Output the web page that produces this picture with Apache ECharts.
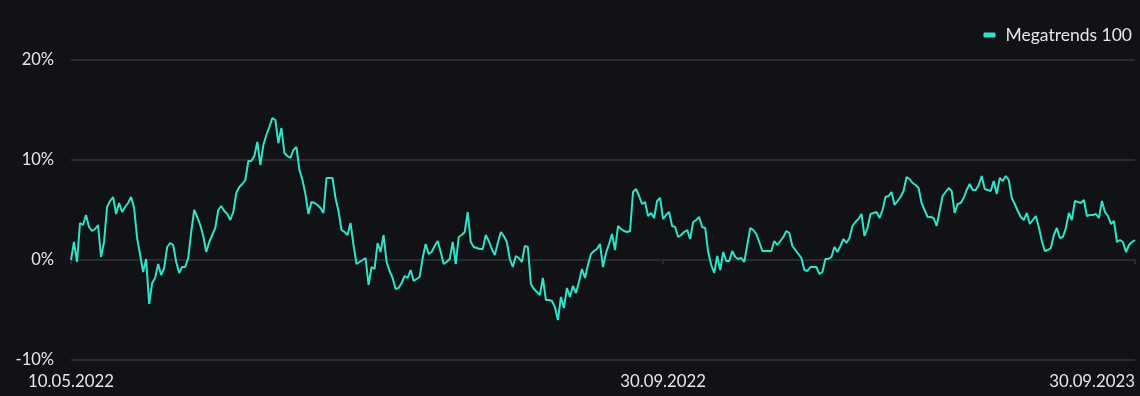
<!DOCTYPE html>
<html>
<head>
<meta charset="utf-8">
<script src="https://cdn.jsdelivr.net/npm/echarts@6/dist/echarts.min.js"></script>
<style>
html,body{margin:0;padding:0;background:#111215;}
#chart{width:1140px;height:396px;}
</style>
</head>
<body>
<div id="chart"></div>
<script>
const seriesName = 'Megatrends 100';
const values = [
  0.0, 1.8, -0.2, 3.7, 3.5, 4.5, 3.3, 2.9, 3.1, 3.5,
  0.3, 1.8, 5.3, 5.9, 6.3, 4.6, 5.7, 4.8, 5.3, 5.7,
  6.3, 5.2, 2.2, 0.5, -1.2, 0.1, -4.4, -2.3, -1.8, -0.4,
  -1.5, -0.8, 1.3, 1.7, 1.5, -0.2, -1.3, -0.7, -0.7, 0.2,
  2.8, 5.0, 4.3, 3.5, 2.4, 0.8, 1.8, 2.5, 3.2, 5.0,
  5.4, 4.9, 4.6, 4.0, 4.8, 6.7, 7.3, 7.6, 8.0, 9.9,
  9.9, 10.4, 11.8, 9.5, 11.5, 12.5, 13.3, 14.2, 14.0, 11.7,
  13.2, 10.7, 10.4, 10.2, 11.0, 11.3, 9.0, 8.0, 6.6, 4.6,
  5.8, 5.7, 5.5, 5.2, 4.7, 8.2, 8.2, 8.2, 6.2, 4.9,
  3.0, 2.8, 2.5, 3.7, 1.5, -0.4, -0.2, 0.0, 0.2, -2.5,
  -0.7, -0.9, 1.7, 0.8, 2.5, -0.2, -1.1, -1.8, -2.9, -2.8,
  -2.3, -1.6, -1.8, -1.0, -2.1, -1.9, -1.7, 0.2, 1.6, 0.6,
  0.8, 1.4, 1.9, 0.8, -0.4, -0.2, 0.1, 1.8, -0.4, 2.3,
  2.5, 2.8, 4.8, 1.8, 1.3, 1.2, 1.1, 1.1, 2.5, 1.9,
  1.1, 0.5, 1.7, 2.8, 2.4, 1.8, 0.1, -0.7, 0.4, 0.2,
  -0.2, 1.4, 1.3, -2.4, -2.9, -3.2, -3.5, -1.8, -4.0, -4.0,
  -4.1, -4.7, -6.0, -3.7, -4.8, -2.8, -3.7, -2.6, -3.3, -2.2,
  -0.9, -1.8, -0.5, 0.6, 0.9, 1.1, 1.6, -0.7, 0.7, 1.6,
  2.6, 1.0, 3.4, 3.1, 2.9, 2.8, 2.9, 6.8, 7.1, 6.4,
  5.6, 5.8, 4.4, 4.7, 4.2, 5.9, 6.2, 4.1, 4.5, 4.8,
  3.4, 3.3, 2.3, 2.5, 2.8, 3.0, 2.1, 3.8, 4.0, 4.3,
  3.3, 3.2, 0.8, -0.5, -1.3, 0.4, -1.0, 0.8, -0.1, -0.1,
  0.9, 0.3, 0.1, 0.2, -0.2, 1.5, 3.2, 3.0, 2.6, 1.8,
  0.9, 0.9, 0.9, 0.9, 1.9, 1.5, 1.9, 2.3, 2.9, 2.7,
  1.4, 1.0, 0.6, 0.2, -1.0, -1.1, -0.7, -0.7, -0.7, -1.4,
  -1.2, 0.1, 0.1, 0.3, 1.3, 0.8, 1.4, 2.1, 1.7, 2.2,
  3.4, 3.8, 4.1, 4.6, 2.4, 3.2, 4.6, 4.7, 4.8, 4.2,
  5.0, 6.3, 6.4, 6.8, 5.5, 5.9, 6.3, 6.9, 8.3, 8.1,
  7.7, 7.5, 7.2, 5.7, 5.0, 4.3, 4.3, 4.2, 3.4, 4.9,
  6.4, 6.8, 7.2, 6.9, 4.7, 5.6, 5.7, 6.2, 7.0, 7.6,
  7.0, 7.0, 7.5, 8.4, 7.1, 7.0, 6.9, 7.9, 6.6, 8.2,
  7.9, 8.4, 8.0, 6.2, 5.6, 4.9, 4.3, 4.0, 4.7, 3.6,
  4.0, 4.4, 3.3, 1.9, 0.9, 1.0, 1.2, 2.5, 3.2, 2.2,
  2.3, 3.2, 4.7, 4.0, 5.9, 5.8, 5.7, 6.0, 4.4, 4.5,
  4.5, 4.6, 4.2, 5.9, 4.8, 4.4, 3.6, 3.9, 1.8, 2.0,
  1.8, 0.8, 1.5, 1.8, 2.0
];
// x-axis tick labels and the category index each one sits on
const tickLabels = ['10.05.2022', '30.09.2022', '30.09.2023'];
const tickIndices = [0, 197, 354];
const categories = values.map((_, i) => String(i));

const labelAt = {};
tickIndices.forEach((idx, k) => { labelAt[idx] = tickLabels[k]; });
const showTick = (i) => labelAt[i] !== undefined;

const FONT = 'Lato';
const chart = echarts.init(document.getElementById('chart'), null, {renderer: 'canvas'});
chart.setOption({
  backgroundColor: '#111215',
  animation: false,
  textStyle: {fontFamily: FONT},
  legend: {
    right: 3,
    top: 21,
    icon: 'roundRect',
    itemWidth: 12,
    itemHeight: 5,
    textStyle: {color: '#e6e6e6', fontSize: 17.5, fontFamily: FONT, padding: [0, 0, 0, 5]},
    data: [seriesName]
  },
  grid: {left: 71, right: 5, top: 60, bottom: 36, containLabel: false},
  xAxis: {
    type: 'category',
    data: categories,
    boundaryGap: false,
    axisLine: {show: true, lineStyle: {color: '#2a2b2e', width: 2}},
    axisTick: {show: true, interval: (i) => showTick(i), length: 4, lineStyle: {color: '#2a2b2e', width: 2}},
    axisLabel: {
      interval: (i) => showTick(i),
      formatter: (v, i) => labelAt[i] || '',
      color: '#e6e6e6',
      fontSize: 16.8,
      fontFamily: FONT,
      margin: 13,
      alignMaxLabel: 'right',
      showMaxLabel: true,
      showMinLabel: true
    },
    splitLine: {show: false}
  },
  yAxis: {
    type: 'value',
    min: -10,
    max: 20,
    interval: 10,
    axisLine: {show: false},
    axisTick: {show: false},
    axisLabel: {formatter: (v) => v + '%', color: '#e6e6e6', fontSize: 16.5, fontFamily: FONT, margin: 17},
    splitLine: {show: true, lineStyle: {color: '#2a2b2e', width: 2}}
  },
  series: [{
    name: seriesName,
    type: 'line',
    data: values,
    showSymbol: false,
    symbol: 'none',
    lineStyle: {color: '#2fe3c8', width: 2},
    itemStyle: {color: '#2fe3c8'}
  }]
});
</script>
</body>
</html>
